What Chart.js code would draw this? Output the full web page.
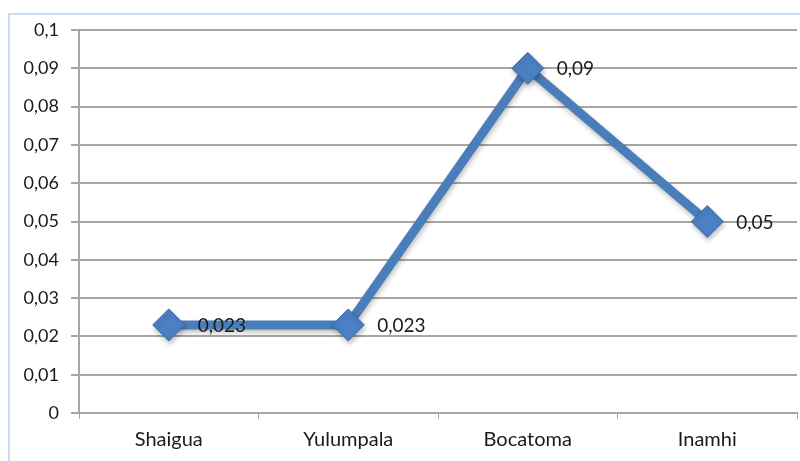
<!DOCTYPE html>
<html>
<head>
<meta charset="utf-8">
<script src="https://cdn.jsdelivr.net/npm/chart.js@4.4.0/dist/chart.umd.min.js"></script>
<style>
    html, body { margin: 0; padding: 0; background: #fff; overflow: hidden; }
    .frame {
        position: absolute; left: 8px; top: 13px;
        width: 792px; height: 448px;
        border-top: 2px solid #c9dcf3; border-left: 2px solid #c9dcf3;
    }
    .frame canvas { display: block; }
</style>
</head>
<body>
<div class="frame"><canvas id="lineChart" width="790" height="446"></canvas></div>
<script>
// ---------- Data ----------
const stations = ['Shaigua', 'Yulumpala', 'Bocatoma', 'Inamhi'];
const values = [0.023, 0.023, 0.09, 0.05];
const valueLabels = ['0,023', '0,023', '0,09', '0,05'];

const FONT = 'Lato, "Open Sans", sans-serif';

// comma as decimal separator
function fmt(v) {
    return Number(v.toFixed(3)).toString().replace('.', ',');
}

// ---------- Point value labels ----------
const valueLabelPlugin = {
    id: 'valueLabels',
    afterDatasetsDraw(chart) {
        const ctx = chart.ctx;
        const meta = chart.getDatasetMeta(0);
        ctx.save();
        ctx.font = '19px ' + FONT;
        ctx.fillStyle = '#1a1a1a';
        ctx.textAlign = 'left';
        ctx.textBaseline = 'middle';
        meta.data.forEach((pt, i) => {
            ctx.fillText(valueLabels[i], pt.x + 29, pt.y + 1);
        });
        ctx.restore();
    }
};

// soft drop shadow under the line and markers
const shadowPlugin = {
    id: 'lineShadow',
    beforeDatasetsDraw(chart) {
        const ctx = chart.ctx;
        ctx.save();
        ctx.shadowColor = 'rgba(0,0,0,0.25)';
        ctx.shadowBlur = 5;
        ctx.shadowOffsetX = 1;
        ctx.shadowOffsetY = 3;
    },
    afterDatasetsDraw(chart) {
        chart.ctx.restore();
    }
};

new Chart(document.getElementById('lineChart'), {
    type: 'line',
    data: {
        labels: stations,
        datasets: [{
            data: values,
            borderColor: '#4a7ebb',
            borderWidth: 9,
            tension: 0,
            pointStyle: 'rectRot',
            pointRadius: 16,
            pointHoverRadius: 16,
            pointBackgroundColor: '#4a80c4',
            pointBorderColor: '#3b68a3',
            pointBorderWidth: 1
        }]
    },
    options: {
        responsive: false,
        animation: false,
        layout: {
            autoPadding: false,
            padding: { top: 15, right: 3, left: 0, bottom: 0 }
        },
        plugins: {
            legend: { display: false },
            tooltip: { enabled: false }
        },
        scales: {
            x: {
                offset: true,
                grid: {
                    display: true,
                    drawOnChartArea: false,
                    offset: true,
                    color: '#a6a6a6',
                    tickLength: 6
                },
                border: { color: '#a6a6a6', width: 2 },
                ticks: {
                    color: '#1a1a1a',
                    font: { family: FONT, size: 20 },
                    padding: 9
                },
                afterFit(scale) {
                    scale.height = 48;
                    scale.paddingLeft = 0;
                    scale.paddingRight = 0;
                }
            },
            y: {
                min: 0,
                max: 0.1,
                ticks: {
                    stepSize: 0.01,
                    color: '#1a1a1a',
                    font: { family: FONT, size: 18 },
                    padding: 12,
                    callback: (v) => fmt(v)
                },
                grid: {
                    color: '#a6a6a6',
                    lineWidth: 2,
                    tickLength: 8
                },
                border: { color: '#a6a6a6', width: 2 },
                afterFit(scale) {
                    scale.width = 69;
                    scale.paddingTop = 0;
                    scale.paddingBottom = 0;
                }
            }
        }
    },
    plugins: [shadowPlugin, valueLabelPlugin]
});
</script>
</body>
</html>
